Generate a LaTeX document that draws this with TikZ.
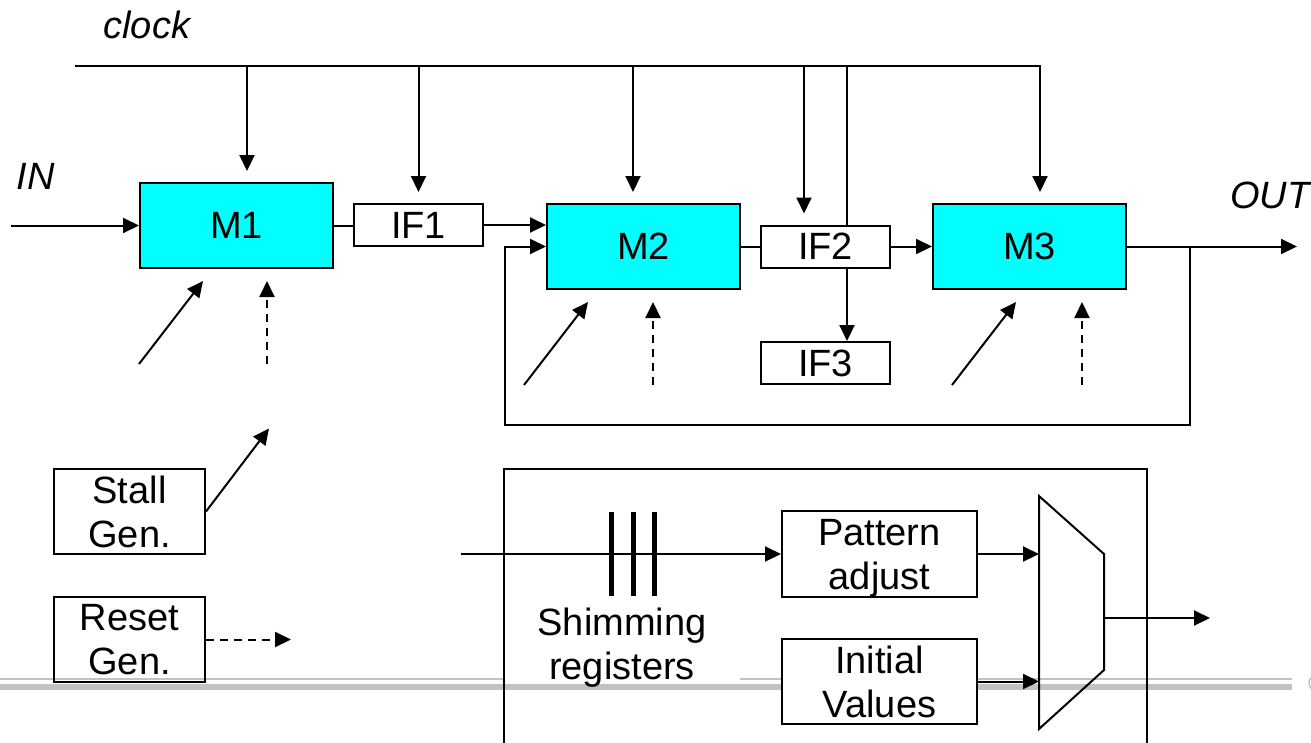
\documentclass[tikz,border=0pt]{standalone}
\usepackage{fontspec}
\setmainfont{Liberation Sans}
\usetikzlibrary{arrows.meta,calc}
\definecolor{modfill}{RGB}{0,255,255}

\tikzset{
  wire/.style={line width=2pt},
  arr/.style={wire, -{Triangle[length=16pt,width=15pt]}},
  dsh/.style={arr, dash pattern=on 8pt off 6pt},
  module/.style={draw, line width=2pt, fill=modfill, minimum width=193pt, minimum height=85pt, inner sep=0pt},
  ifbox/.style={draw, line width=2pt, fill=white, minimum width=129pt, minimum height=42pt, inner sep=0pt},
  genbox/.style={draw, line width=2pt, minimum width=151pt, minimum height=85pt, inner sep=0pt, align=center, text depth=-6pt},
  footer/.style={color=black!24},
}

\begin{document}
\begin{tikzpicture}[x=1pt, y=-1pt, font=\fontsize{38}{44}\selectfont]
  \useasboundingbox (0,0) rectangle (1311,742);

  % slide rule along the bottom
  \draw[footer, line width=2pt] (0,679) -- (503,679) (740,679) -- (1292,679);
  \draw[footer, line width=6pt] (0,687) -- (1292,687);
  \draw[footer, line width=1.5pt] (1317,683) ++(135:8) arc (135:225:8);

  % pipeline
  \node[module] (M1) at (236.5,225.5) {M1};
  \node[ifbox] (IF1) at (418.5,225) {IF1};
  \node[module] (M2) at (643.5,246.5) {M2};
  \node[ifbox] (IF2) at (825.5,246.5) {IF2};
  \node[module] (M3) at (1029.5,246.5) {M3};
  \node[ifbox] (IF3) at (825.5,363) {IF3};

  \node[anchor=base west] (clk) at (100,38) {\itshape clock};
  \node[anchor=base west] (inlab) at (13,189) {\itshape IN};
  \node[anchor=base west, inner sep=0pt] (outlab) at (1230,208) {\itshape OUT};

  % clock tree
  \coordinate (ck0) at (75,66);
  \coordinate (ck1) at (247,66);
  \coordinate (ck2) at (418.5,66);
  \coordinate (ck3) at (633,66);
  \coordinate (ck4) at (804,66);
  \coordinate (ck5) at (847,66);
  \coordinate (ck6) at (1040,66);
  \draw[arr, shorten >=11pt] (ck0) -- (ck6) -- (ck6 |- M3.north);
  \draw[arr, shorten >=11pt] (ck1) -- (ck1 |- M1.north);
  \draw[arr, shorten >=11pt] (ck2) -- (ck2 |- IF1.north);
  \draw[arr, shorten >=11pt] (ck3) -- (ck3 |- M2.north);
  \draw[arr, shorten >=11pt] (ck4) -- (ck4 |- IF2.north);
  \draw[wire] (ck5) -- (ck5 |- IF2.north);
  \draw[arr] (ck5 |- IF2.south) -- (ck5 |- IF3.north);

  % data path
  \coordinate (in) at (11,225.5);
  \coordinate (out) at (1297,246.5);
  \coordinate (fb) at (1189.5,246.5);
  \coordinate (lp) at (505,425);
  \draw[arr] (in) -- (M1.west);
  \draw[wire] (M1.east) -- (M1.east -| IF1.west);
  \draw[arr] (IF1.east) -- (IF1.east -| M2.west);
  \draw[wire] (M2.east) -- (IF2.west);
  \draw[arr] (IF2.east) -- (M3.west);
  \draw[arr] (M3.east) -- (out);
  \draw[arr] (fb) |- (lp) |- (M2.west);

  % stall and reset inputs
  \foreach \m/\a/\b in {M1/0/128, M2/-22/107, M3/20/150} {
    \draw[arr] ([xshift=\a pt, yshift=-95pt]\m.south west) -- ++(64,-83);
    \draw[dsh] ([xshift=\b pt, yshift=-95pt]\m.south west) -- ++(0,-83);
  }

  \node[genbox] (stall) at (129.5,511.5) {Stall\\Gen.};
  \node[genbox] (reset) at (129.5,639.5) {Reset\\Gen.};
  \draw[arr] (stall.east) -- ++(63,-83);
  \draw[dsh] (reset.east) -- ++(85,0);

  % shimming unit
  \draw[wire] (504,745) |- (1147,469) -- (1147,745);
  \node[genbox, fill=white, minimum width=195pt, minimum height=86pt] (pat) at (879.5,554) {Pattern\\adjust};
  \node[genbox, fill=white, minimum width=195pt] (init) at (879.5,681.5) {Initial\\Values};
  \coordinate (shin) at (461,554);
  \draw[arr] (shin) -- (pat.west);
  \foreach \x in {611,633,654}
    \draw[line width=5pt] (\x,512) -- (\x,596);
  \node[align=center, text depth=0pt] (shim) at (622,644) {Shimming\\registers};

  \coordinate (mxa) at (1039,496);
  \coordinate (mxb) at (1104,554);
  \coordinate (mxc) at (1104,670);
  \coordinate (mxd) at (1039,729);
  \draw[wire] (mxa) -- (mxb) -- (mxc) -- (mxd) -- cycle;
  \draw[arr] (pat.east) -- (pat.east -| mxa);
  \draw[arr] (init.east) -- (init.east -| mxa);
  \coordinate (muxo) at (1104,618);
  \coordinate (mout) at (1210,618);
  \draw[arr] (muxo) -- (mout);
\end{tikzpicture}
\end{document}
